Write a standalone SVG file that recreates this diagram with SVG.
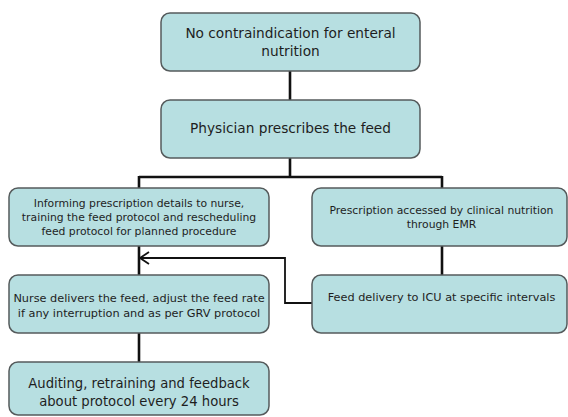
<svg xmlns="http://www.w3.org/2000/svg" width="568" height="417" viewBox="0 0 568 417">
<style>
.box{fill:#b7dfe1;stroke:#555b5c;stroke-width:1.5}
.t{font-family:"DejaVu Sans",Verdana,sans-serif;fill:#1e1e1e;text-anchor:middle}
.c{fill:none;stroke:#111;stroke-width:2.6}
.fb{fill:none;stroke:#111;stroke-width:1.8}
</style>
<defs>
<marker id="open" markerWidth="12" markerHeight="14" refX="10" refY="7" orient="auto" markerUnits="userSpaceOnUse">
<path d="M1,1 L10,7 L1,13" fill="none" stroke="#111" stroke-width="1.8"/>
</marker>
</defs>
<rect width="568" height="417" fill="#ffffff"/>
<g id="connectors">
<path class="c" d="M290,71 V100"/>
<path class="c" d="M290,158 V177 M139,177 H442 M139,176 V188 M442,176 V188"/>
<path class="c" d="M139,246 V275"/>
<path class="c" d="M442,246 V275"/>
<path class="c" d="M139,333 V362"/>
<path class="fb" d="M313,303 H285 V258 H140" marker-end="url(#open)"/>
</g>
<g id="n1">
<rect class="box" x="161" y="13" width="259" height="58" rx="9"/>
<text class="t" x="290.5" y="38" font-size="13.7">No contraindication for enteral</text>
<text class="t" x="290.5" y="56" font-size="13.7">nutrition</text>
</g>
<g id="n2">
<rect class="box" x="161" y="100" width="259" height="58" rx="9"/>
<text class="t" x="290.5" y="133" font-size="13.7">Physician prescribes the feed</text>
</g>
<g id="n3">
<rect class="box" x="9" y="188" width="260" height="58" rx="9"/>
<text class="t" x="139" y="206.5" font-size="10.8">Informing prescription details to nurse,</text>
<text class="t" x="139" y="221" font-size="10.8">training the feed protocol and rescheduling</text>
<text class="t" x="139" y="235" font-size="10.8">feed protocol for planned procedure</text>
</g>
<g id="n4">
<rect class="box" x="312" y="188" width="255" height="58" rx="9"/>
<text class="t" x="441.5" y="214" font-size="10.8">Prescription accessed by clinical nutrition</text>
<text class="t" x="441.5" y="228" font-size="10.8">through EMR</text>
</g>
<g id="n5">
<rect class="box" x="9" y="275" width="260" height="58" rx="9"/>
<text class="t" x="139" y="302" font-size="11.3">Nurse delivers the feed, adjust the feed rate</text>
<text class="t" x="139" y="317" font-size="11.3">if any interruption and as per GRV protocol</text>
</g>
<g id="n6">
<rect class="box" x="312" y="275" width="255" height="58" rx="9"/>
<text class="t" x="441.5" y="300.5" font-size="11.3">Feed delivery to ICU at specific intervals</text>
</g>
<g id="n7">
<rect class="box" x="9" y="362" width="260" height="53" rx="9"/>
<text class="t" x="139" y="388" font-size="13.2">Auditing, retraining and feedback</text>
<text class="t" x="139" y="406" font-size="13.2">about protocol every 24 hours</text>
</g>
</svg>
